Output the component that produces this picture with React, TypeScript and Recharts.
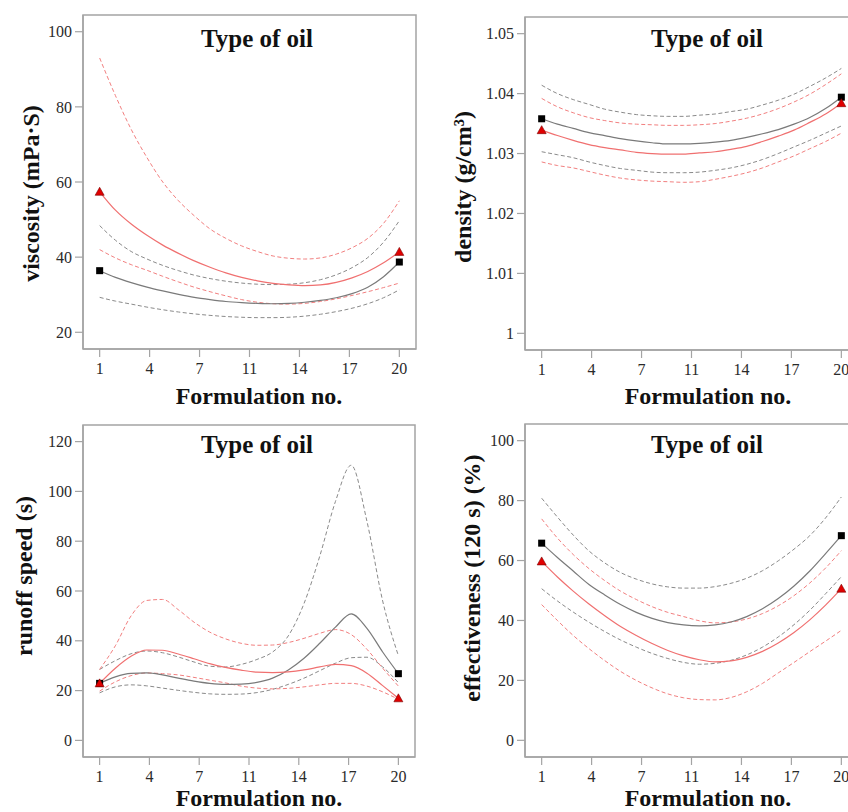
import React from 'react';
import { ComposedChart, Line, Scatter, XAxis, YAxis, ReferenceArea } from 'recharts';

// formulation numbers along the x axis
const formulation = [1, 2, 3, 4, 5, 6, 7, 8, 9, 10, 11, 12, 13, 14, 15, 16, 17, 18, 19, 20];
const xTickLabels = ['1', '4', '7', '11', '14', '17', '20'];

// viscosity (mPa·S)
const viscBlackUpper = [48.4, 44.5, 41.5, 39.5, 37.8, 36.4, 35.2, 34.3, 33.6, 33.1, 32.8, 32.7, 32.8, 33.2, 34.0, 35.3, 37.2, 39.9, 44.0, 49.7];
const viscBlackMean = [36.4, 34.6, 33.2, 32.0, 31.0, 30.1, 29.3, 28.7, 28.2, 27.9, 27.7, 27.6, 27.7, 28.0, 28.5, 29.2, 30.3, 32.0, 34.8, 38.7];
const viscBlackLower = [29.3, 28.3, 27.5, 26.7, 26.0, 25.4, 24.9, 24.5, 24.2, 24.0, 23.9, 23.9, 24.0, 24.3, 24.8, 25.5, 26.4, 27.6, 29.2, 31.3];
const viscRedUpper = [93.0, 83.0, 74.0, 66.5, 60.0, 55.0, 51.0, 47.5, 45.0, 43.0, 41.5, 40.3, 39.7, 39.5, 39.8, 40.8, 42.5, 45.0, 49.0, 55.0];
const viscRedMean = [57.4, 52.5, 48.8, 45.8, 43.2, 41.0, 39.0, 37.3, 35.8, 34.6, 33.7, 33.0, 32.6, 32.4, 32.6, 33.3, 34.5, 36.2, 38.5, 41.4];
const viscRedLower = [42.0, 39.8, 38.0, 36.5, 34.9, 33.4, 32.0, 30.8, 29.7, 28.7, 28.0, 27.6, 27.5, 27.7, 28.2, 28.9, 29.8, 30.8, 31.9, 33.1];
const viscTicks = [20, 40, 60, 80, 100];

// density (g/cm³)
const densBlackUpper = [1.0414, 1.04, 1.039, 1.0382, 1.0374, 1.0369, 1.0365, 1.0363, 1.0362, 1.0362, 1.0364, 1.0366, 1.037, 1.0374, 1.0381, 1.0389, 1.0399, 1.0412, 1.0426, 1.0442];
const densBlackMean = [1.0358, 1.0349, 1.0342, 1.0335, 1.033, 1.0325, 1.0321, 1.0318, 1.0316, 1.0316, 1.0317, 1.0319, 1.0322, 1.0327, 1.0333, 1.034, 1.0349, 1.036, 1.0375, 1.0394];
const densBlackLower = [1.0303, 1.0298, 1.0293, 1.0286, 1.028, 1.0275, 1.0272, 1.0269, 1.0268, 1.0268, 1.0269, 1.0272, 1.0276, 1.0282, 1.029, 1.03, 1.0311, 1.0322, 1.0334, 1.0346];
const densRedUpper = [1.0392, 1.0378, 1.0368, 1.036, 1.0355, 1.0351, 1.0349, 1.0348, 1.0347, 1.0347, 1.0348, 1.035, 1.0354, 1.0359, 1.0366, 1.0375, 1.0386, 1.0399, 1.0415, 1.0433];
const densRedMean = [1.0339, 1.033, 1.0322, 1.0315, 1.031, 1.0306, 1.0302, 1.03, 1.0299, 1.0299, 1.0301, 1.0303, 1.0307, 1.0312, 1.032, 1.0329, 1.0339, 1.0352, 1.0366, 1.0384];
const densRedLower = [1.0286, 1.028, 1.0276, 1.027, 1.0264, 1.0259, 1.0256, 1.0254, 1.0253, 1.0252, 1.0253, 1.0257, 1.0262, 1.0268, 1.0276, 1.0286, 1.0296, 1.0308, 1.032, 1.0334];
const densTicks = [1, 1.01, 1.02, 1.03, 1.04, 1.05];

// runoff speed (s)
const runBlackUpper = [28.5, 32.0, 34.8, 35.9, 35.2, 33.5, 31.5, 29.8, 29.5, 30.5, 32.5, 35.5, 42.0, 55.0, 74.0, 96.0, 110.5, 88.0, 56.0, 34.0];
const runBlackMean = [22.9, 25.5, 26.9, 27.1, 26.3, 25.0, 23.8, 22.9, 22.5, 22.6, 23.3, 25.0, 28.3, 33.0, 39.0, 45.5, 50.8, 45.0, 35.5, 26.8];
const runBlackLower = [19.1, 21.5, 22.3, 21.9, 21.0, 20.1, 19.3, 18.7, 18.5, 18.6, 19.2, 20.5, 22.5, 25.0, 28.0, 31.0, 33.2, 33.4, 29.5, 23.2];
const runRedUpper = [28.5, 38.0, 50.0, 56.2, 56.6, 52.5, 47.5, 43.5, 40.8, 39.0, 38.2, 38.3, 39.3, 41.0, 43.0, 44.5, 42.5, 36.6, 29.0, 21.8];
const runRedMean = [22.9, 29.0, 33.8, 36.3, 36.2, 34.7, 32.8, 30.8, 29.3, 28.2, 27.4, 27.2, 27.5, 28.3, 29.5, 30.5, 30.0, 27.0, 22.0, 16.9];
const runRedLower = [19.8, 23.5, 26.0, 27.1, 26.8, 26.3, 25.3, 24.2, 23.1, 21.8, 21.0, 20.7, 20.9, 21.5, 22.3, 22.9, 22.9, 21.8, 19.5, 16.5];
const runTicks = [0, 20, 40, 60, 80, 100, 120];

// effectiveness (120 s) (%)
const effBlackUpper = [80.8, 74.5, 68.5, 63.2, 59.2, 56.0, 53.8, 52.2, 51.2, 50.8, 50.8, 51.3, 52.4, 54.1, 56.6, 59.9, 63.8, 68.3, 74.2, 81.2];
const effBlackMean = [65.8, 61.0, 56.5, 52.0, 48.5, 45.3, 42.7, 40.7, 39.3, 38.5, 38.2, 38.5, 39.5, 41.3, 43.9, 47.3, 51.5, 56.5, 62.3, 68.3];
const effBlackLower = [50.6, 46.5, 42.8, 39.4, 36.3, 33.5, 31.1, 29.0, 27.3, 26.0, 25.4, 25.7, 26.7, 28.5, 31.1, 34.5, 38.6, 43.4, 48.9, 54.6];
const effRedUpper = [73.9, 67.5, 62.0, 57.3, 53.3, 49.8, 47.0, 44.6, 42.7, 41.3, 39.9, 39.2, 39.5, 40.5, 42.3, 44.9, 48.3, 52.5, 57.5, 63.3];
const effRedMean = [59.7, 54.5, 49.8, 45.5, 41.6, 38.0, 35.0, 32.3, 30.0, 28.2, 26.9, 26.2, 26.5, 27.7, 29.7, 32.5, 36.0, 40.2, 45.1, 50.6];
const effRedLower = [45.3, 40.0, 35.0, 30.6, 26.6, 23.0, 20.0, 17.5, 15.5, 14.2, 13.6, 13.5, 14.3, 16.2, 19.0, 22.5, 26.0, 29.6, 33.1, 36.7];
const effTicks = [0, 20, 40, 60, 80, 100];

const SERIF = '"Liberation Serif", "Times New Roman", serif';
const FRAME = '#a4a4a4';
const BLACK_LINE = '#7a7a7a';
const BLACK_DASH = '#8a8a8a';
const RED_LINE = '#f07070';
const RED_DASH = '#f27f7f';
const PAD = 0.0556;

const toRows = (bu: number[], bm: number[], bl: number[], ru: number[], rm: number[], rl: number[]) =>
  formulation.map((x, i) => ({ x, bu: bu[i], bm: bm[i], bl: bl[i], ru: ru[i], rm: rm[i], rl: rl[i] }));

const padDomain = (lo: number, hi: number): [number, number] => [lo - (hi - lo) * PAD, hi + (hi - lo) * PAD];

const xTicks = xTickLabels.map((_, i) => 1 + (19 * i) / 6);
const xDomain = padDomain(1, 20);

const Square = (p: any) => <rect x={p.cx - 3.5} y={p.cy - 3.5} width={7} height={7} fill="#000" />;
const Triangle = (p: any) => (
  <path d={`M${p.cx},${p.cy - 4.5} L${p.cx + 4.5},${p.cy + 3.5} L${p.cx - 4.5},${p.cy + 3.5} Z`} fill="#e00000" stroke="#7a0000" strokeWidth={0.6} />
);

type PanelProps = {
  left: number;
  top: number;
  width: number;
  margin: { top: number; right: number; bottom: number; left: number };
  rows: ReturnType<typeof toRows>;
  yTicks: number[];
  yFormat?: (v: number) => string;
};

const Panel = ({ left, top, width, margin, rows, yTicks, yFormat }: PanelProps) => {
  const yDomain = padDomain(yTicks[0], yTicks[yTicks.length - 1]);
  const last = rows.length - 1;
  const blackEnds = [{ x: rows[0].x, y: rows[0].bm }, { x: rows[last].x, y: rows[last].bm }];
  const redEnds = [{ x: rows[0].x, y: rows[0].rm }, { x: rows[last].x, y: rows[last].rm }];
  const tickStyle = { fill: '#2a2a2a', fontSize: 16, fontFamily: SERIF };
  return (
    <div style={{ position: 'absolute', left, top }}>
      <ComposedChart width={width} height={406} data={rows} margin={margin}>
        <XAxis
          dataKey="x"
          type="number"
          domain={xDomain}
          allowDataOverflow
          ticks={xTicks}
          interval={0}
          tickFormatter={(_v: number, i: number) => xTickLabels[i]}
          height={30}
          tickSize={8}
          tickMargin={6}
          axisLine={{ stroke: FRAME, strokeWidth: 1.5 }}
          tickLine={{ stroke: FRAME, strokeWidth: 1.2 }}
          tick={tickStyle}
        />
        <YAxis
          type="number"
          domain={yDomain}
          allowDataOverflow
          ticks={yTicks}
          interval={0}
          tickFormatter={yFormat}
          width={60}
          tickSize={8}
          tickMargin={3}
          axisLine={{ stroke: FRAME, strokeWidth: 1.5 }}
          tickLine={{ stroke: FRAME, strokeWidth: 1.2 }}
          tick={tickStyle}
        />
        <ReferenceArea x1={xDomain[0]} x2={xDomain[1]} y1={yDomain[0]} y2={yDomain[1]} fill="none" stroke={FRAME} strokeWidth={1.5} ifOverflow="visible" />
        <Line dataKey="bu" type="monotone" stroke={BLACK_DASH} strokeWidth={1} strokeDasharray="4 2.5" dot={false} activeDot={false} isAnimationActive={false} />
        <Line dataKey="bl" type="monotone" stroke={BLACK_DASH} strokeWidth={1} strokeDasharray="4 2.5" dot={false} activeDot={false} isAnimationActive={false} />
        <Line dataKey="ru" type="monotone" stroke={RED_DASH} strokeWidth={1} strokeDasharray="4 2.5" dot={false} activeDot={false} isAnimationActive={false} />
        <Line dataKey="rl" type="monotone" stroke={RED_DASH} strokeWidth={1} strokeDasharray="4 2.5" dot={false} activeDot={false} isAnimationActive={false} />
        <Line dataKey="bm" type="monotone" stroke={BLACK_LINE} strokeWidth={1.2} dot={false} activeDot={false} isAnimationActive={false} />
        <Line dataKey="rm" type="monotone" stroke={RED_LINE} strokeWidth={1.2} dot={false} activeDot={false} isAnimationActive={false} />
        <Scatter data={blackEnds} dataKey="y" shape={Square} isAnimationActive={false} />
        <Scatter data={redEnds} dataKey="y" shape={Triangle} isAnimationActive={false} />
      </ComposedChart>
    </div>
  );
};

const labelStyle = { fontFamily: SERIF, fontWeight: 700, fontSize: 24, fill: '#111' };
const titleStyle = { ...labelStyle, fontSize: 25 };

const texts = [
  { title: [257, 46.7], xl: [259, 404], yl: [39, 193.5], label: 'viscosity (mPa·S)' },
  { title: [707, 46.7], xl: [708, 404], yl: [471, 187], label: 'density (g/cm³)' },
  { title: [257, 452.7], xl: [259, 806], yl: [32, 576], label: 'runoff speed (s)' },
  { title: [707, 452.7], xl: [708, 806], yl: [480, 578], label: 'effectiveness (120 s) (%)' },
];

export default function App() {
  return (
    <div style={{ position: 'absolute', left: 0, top: 0, width: 848, height: 812, overflow: 'hidden', background: '#fff' }}>
      <Panel left={0} top={0} width={424} margin={{ top: 15, right: 8, left: 23, bottom: 27 }}
        rows={toRows(viscBlackUpper, viscBlackMean, viscBlackLower, viscRedUpper, viscRedMean, viscRedLower)} yTicks={viscTicks} />
      <Panel left={424} top={0} width={440} margin={{ top: 17, right: 6, left: 41, bottom: 26 }}
        rows={toRows(densBlackUpper, densBlackMean, densBlackLower, densRedUpper, densRedMean, densRedLower)} yTicks={densTicks}
        yFormat={(v) => (Math.abs(v - 1) < 1e-9 ? '1' : v.toFixed(2))} />
      <Panel left={0} top={406} width={424} margin={{ top: 19, right: 9, left: 23, bottom: 25 }}
        rows={toRows(runBlackUpper, runBlackMean, runBlackLower, runRedUpper, runRedMean, runRedLower)} yTicks={runTicks} />
      <Panel left={424} top={406} width={440} margin={{ top: 18, right: 6, left: 41, bottom: 25 }}
        rows={toRows(effBlackUpper, effBlackMean, effBlackLower, effRedUpper, effRedMean, effRedLower)} yTicks={effTicks} />
      <svg width={848} height={812} style={{ position: 'absolute', left: 0, top: 0, pointerEvents: 'none' }}>
        {texts.map((t) => (
          <g key={t.label}>
            <text x={t.title[0]} y={t.title[1]} textAnchor="middle" style={titleStyle}>Type of oil</text>
            <text x={t.xl[0]} y={t.xl[1]} textAnchor="middle" style={labelStyle}>Formulation no.</text>
            <text transform={`translate(${t.yl[0]},${t.yl[1]}) rotate(-90)`} textAnchor="middle" style={labelStyle}>{t.label}</text>
          </g>
        ))}
      </svg>
    </div>
  );
}
